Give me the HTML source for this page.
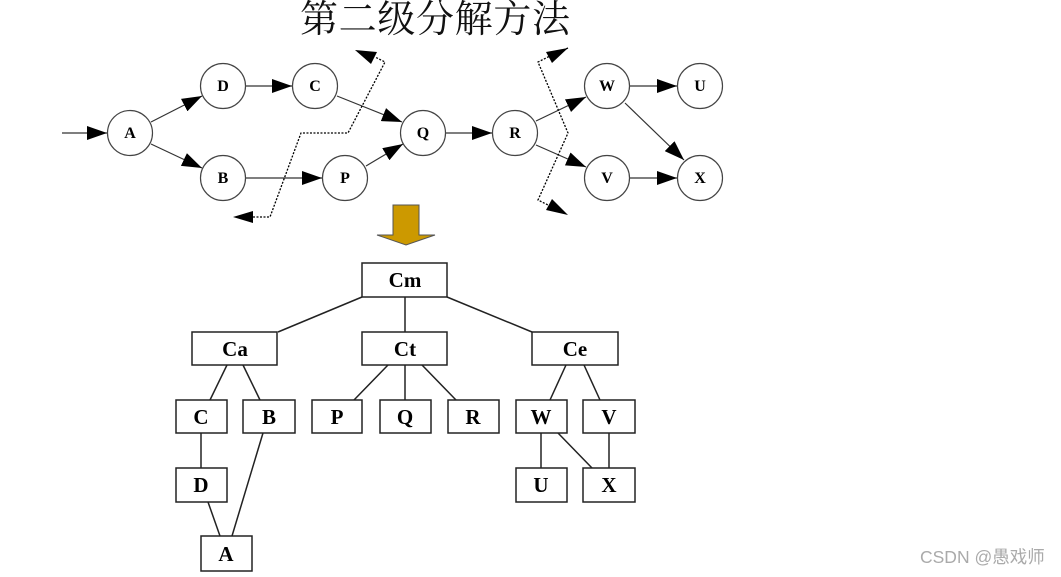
<!DOCTYPE html>
<html><head><meta charset="utf-8"><style>
html,body{margin:0;padding:0;background:#fff;}
svg{display:block;}
.n{font-family:"Liberation Serif",serif;font-weight:bold;font-size:16px;}
.b{font-family:"Liberation Serif",serif;font-weight:bold;font-size:21px;}
</style></head><body>
<svg width="1061" height="577" viewBox="0 0 1061 577" xmlns="http://www.w3.org/2000/svg">
<defs>
<marker id="ar2" markerWidth="20" markerHeight="14" refX="20" refY="7" orient="auto" markerUnits="userSpaceOnUse" viewBox="0 0 20 14">
<path d="M0,0 L20,7 L0,14 z" fill="#000"/></marker>
</defs>
<text x="300" y="32" font-family="'Noto Serif CJK SC','Liberation Serif',serif" font-size="38" fill="#111" textLength="270">第二级分解方法</text>

<g stroke="#333" stroke-width="1.2" fill="none">
<line x1="62" y1="133" x2="107" y2="133" marker-end="url(#ar2)"/>
<line x1="151" y1="122" x2="202" y2="96" marker-end="url(#ar2)"/>
<line x1="151" y1="144" x2="202" y2="168" marker-end="url(#ar2)"/>
<line x1="246" y1="86" x2="292" y2="86" marker-end="url(#ar2)"/>
<line x1="337" y1="96" x2="402" y2="122" marker-end="url(#ar2)"/>
<line x1="246" y1="178" x2="322" y2="178" marker-end="url(#ar2)"/>
<line x1="366" y1="166" x2="403" y2="144" marker-end="url(#ar2)"/>
<line x1="446" y1="133" x2="492" y2="133" marker-end="url(#ar2)"/>
<line x1="536" y1="121" x2="586" y2="97" marker-end="url(#ar2)"/>
<line x1="536" y1="145" x2="586" y2="167" marker-end="url(#ar2)"/>
<line x1="630" y1="86" x2="677" y2="86" marker-end="url(#ar2)"/>
<line x1="630" y1="178" x2="677" y2="178" marker-end="url(#ar2)"/>
<line x1="625" y1="103" x2="684" y2="160" marker-end="url(#ar2)"/>
</g>
<g stroke="#000" stroke-width="1.3" fill="none" stroke-dasharray="2,1.5">
<polyline points="253,217 270,217 301,133 348,133 385,62 375,57"/>
<polyline points="568,48 548,57 538,62 568,133 538,200 548,205"/>
</g>
<g fill="#000">
<path d="M233,217 L253,211 L253,223 z"/>
<path d="M355,50 L377,52 L371,64 z"/>
<path d="M568,48 L552,63 L546,52 z"/>
<path d="M568,215 L546,210 L552,199 z"/>
</g>
<g stroke="#444" stroke-width="1.2" fill="#fff">
<circle cx="130" cy="133" r="22.5"/><circle cx="223" cy="86" r="22.5"/><circle cx="315" cy="86" r="22.5"/>
<circle cx="423" cy="133" r="22.5"/><circle cx="223" cy="178" r="22.5"/><circle cx="345" cy="178" r="22.5"/>
<circle cx="515" cy="133" r="22.5"/><circle cx="607" cy="86" r="22.5"/><circle cx="700" cy="86" r="22.5"/>
<circle cx="607" cy="178" r="22.5"/><circle cx="700" cy="178" r="22.5"/>
</g>
<g class="n" text-anchor="middle">
<text x="130" y="138">A</text><text x="223" y="91">D</text><text x="315" y="91">C</text>
<text x="423" y="138">Q</text><text x="223" y="183">B</text><text x="345" y="183">P</text>
<text x="515" y="138">R</text><text x="607" y="91">W</text><text x="700" y="91">U</text>
<text x="607" y="183">V</text><text x="700" y="183">X</text>
</g>

<path d="M393,205 H419 V235 H435 L406,245 L377,235 H393 Z" fill="#cc9900" stroke="#555" stroke-width="1"/>

<g stroke="#222" stroke-width="1.5">
<line x1="362" y1="297" x2="278" y2="332"/><line x1="405" y1="297" x2="405" y2="332"/><line x1="447" y1="297" x2="532" y2="332"/>
<line x1="227" y1="365" x2="210" y2="400"/><line x1="243" y1="365" x2="260" y2="400"/>
<line x1="388" y1="365" x2="354" y2="400"/><line x1="405" y1="365" x2="405" y2="400"/><line x1="422" y1="365" x2="456" y2="400"/>
<line x1="566" y1="365" x2="550" y2="400"/><line x1="584" y1="365" x2="600" y2="400"/>
<line x1="201" y1="433" x2="201" y2="468"/><line x1="263" y1="433" x2="232" y2="536"/><line x1="208" y1="502" x2="220" y2="536"/>
<line x1="541" y1="433" x2="541" y2="468"/><line x1="558" y1="433" x2="592" y2="468"/><line x1="609" y1="433" x2="609" y2="468"/>
</g>
<g stroke="#222" stroke-width="1.5" fill="#fff">
<rect x="362" y="263" width="85" height="34"/>
<rect x="192" y="332" width="85" height="33"/><rect x="362" y="332" width="85" height="33"/><rect x="532" y="332" width="86" height="33"/>
<rect x="176" y="400" width="51" height="33"/><rect x="243" y="400" width="52" height="33"/>
<rect x="312" y="400" width="50" height="33"/><rect x="380" y="400" width="51" height="33"/><rect x="448" y="400" width="51" height="33"/>
<rect x="516" y="400" width="51" height="33"/><rect x="583" y="400" width="52" height="33"/>
<rect x="176" y="468" width="51" height="34"/><rect x="516" y="468" width="51" height="34"/><rect x="583" y="468" width="52" height="34"/>
<rect x="201" y="536" width="51" height="35"/>
</g>
<g class="b" text-anchor="middle">
<text x="405" y="287">Cm</text>
<text x="235" y="356">Ca</text><text x="405" y="356">Ct</text><text x="575" y="356">Ce</text>
<text x="201" y="424">C</text><text x="269" y="424">B</text><text x="337" y="424">P</text><text x="405" y="424">Q</text><text x="473" y="424">R</text>
<text x="541" y="424">W</text><text x="609" y="424">V</text>
<text x="201" y="492">D</text><text x="541" y="492">U</text><text x="609" y="492">X</text>
<text x="226" y="561">A</text>
</g>
<text x="920" y="563" font-family="'Liberation Sans','Noto Sans CJK SC',sans-serif" font-size="17.5" fill="#aaa">CSDN @愚戏师</text>
</svg>
</body></html>
